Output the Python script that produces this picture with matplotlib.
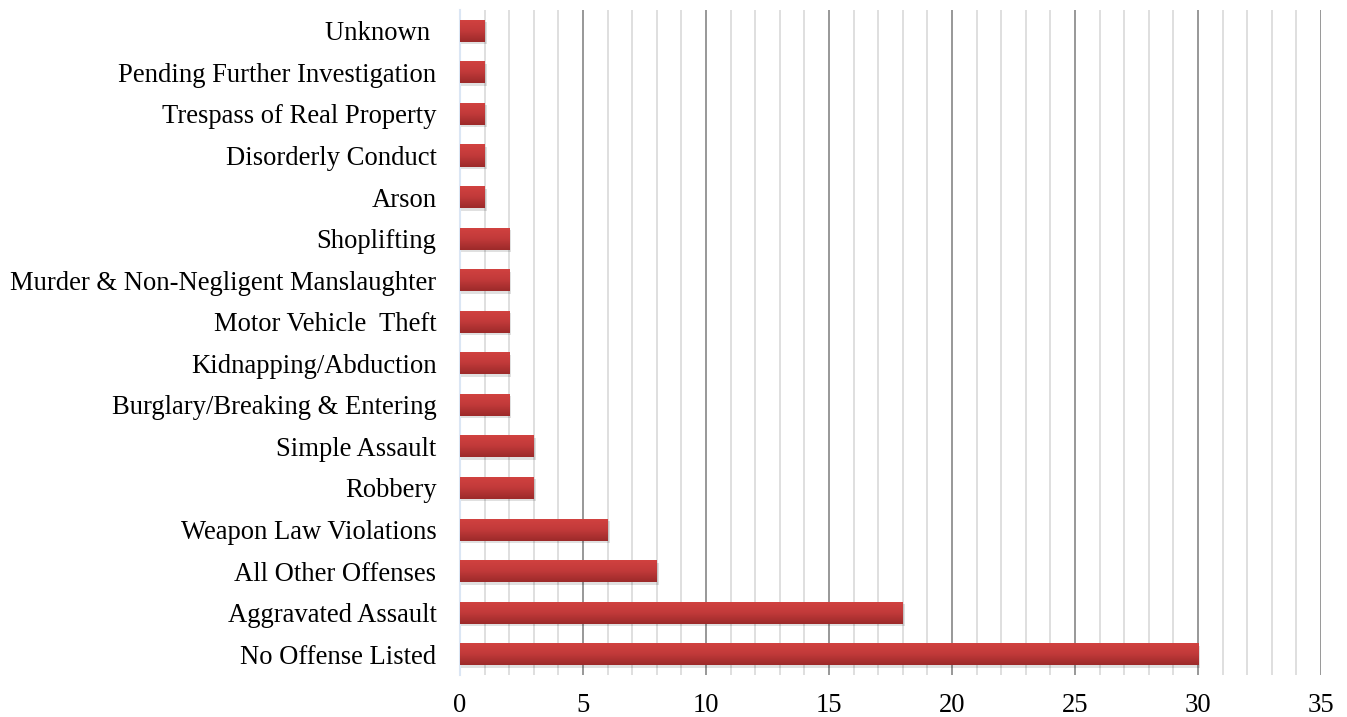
import numpy as np
import matplotlib.pyplot as plt
from matplotlib.colors import LinearSegmentedColormap

categories = ['No Offense Listed', 'Aggravated Assault', 'All Other Offenses',
              'Weapon Law Violations', 'Robbery', 'Simple Assault',
              'Burglary/Breaking & Entering', 'Kidnapping/Abduction',
              'Motor Vehicle  Theft', 'Murder & Non-Negligent Manslaughter',
              'Shoplifting', 'Arson', 'Disorderly Conduct',
              'Trespass of Real Property', 'Pending Further Investigation',
              'Unknown ']
counts = [30, 18, 8, 6, 3, 3, 2, 2, 2, 2, 2, 1, 1, 1, 1, 1]
x_ticks = [0, 5, 10, 15, 20, 25, 30, 35]

plt.rcParams['font.family'] = ['Liberation Serif', 'DejaVu Serif']

fig = plt.figure(figsize=(13.47, 7.17), dpi=100)
ax = fig.add_axes([0.3415, 0.0586, 0.6392, 0.9274])

y = np.arange(len(categories))
bar_h = 0.53

# red vertical gradient, lighter on top
grad = LinearSegmentedColormap.from_list('redgrad', ['#9c2a2a', '#c23a3a', '#d24240'])
gimg = np.linspace(0, 1, 64).reshape(-1, 1)

for yi, v in zip(y, counts):
    # soft shadow under each bar
    ax.barh(yi - 0.06, v + 0.08, height=bar_h, left=0, color='#000000', alpha=0.12,
            zorder=2, linewidth=0)
    bars = ax.barh(yi, v, height=bar_h, color='#c23a3a', zorder=3, linewidth=0)
    im = ax.imshow(gimg, extent=(0, v, yi - bar_h / 2, yi + bar_h / 2), cmap=grad,
                   aspect='auto', origin='lower', zorder=4, interpolation='bicubic')
    im.set_clip_path(bars[0])

ax.set_xlim(0, 35)
ax.set_ylim(-0.5, len(categories) - 0.5)
ax.set_aspect('auto')

# grid: minor every 1, major every 5
ax.set_xticks(x_ticks)
ax.set_xticks(np.arange(0, 36, 1), minor=True)
ax.grid(which='minor', axis='x', color='#d9d9d9', linewidth=1.2, zorder=0)
ax.grid(which='major', axis='x', color='#868686', linewidth=1.2, zorder=1)
ax.set_axisbelow(True)

ax.set_yticks(y)
ax.set_yticklabels(categories, fontsize=19.2)
ax.set_xticklabels([str(t) for t in x_ticks], fontsize=19.2)
ax.tick_params(axis='both', which='both', length=0)
ax.tick_params(axis='y', pad=17)
ax.tick_params(axis='x', pad=13)

for s in ['top', 'right', 'bottom']:
    ax.spines[s].set_visible(False)
ax.spines['left'].set_color('#dbe6f4')
ax.spines['left'].set_linewidth(1.5)

fig.savefig('out.png', dpi=100)
